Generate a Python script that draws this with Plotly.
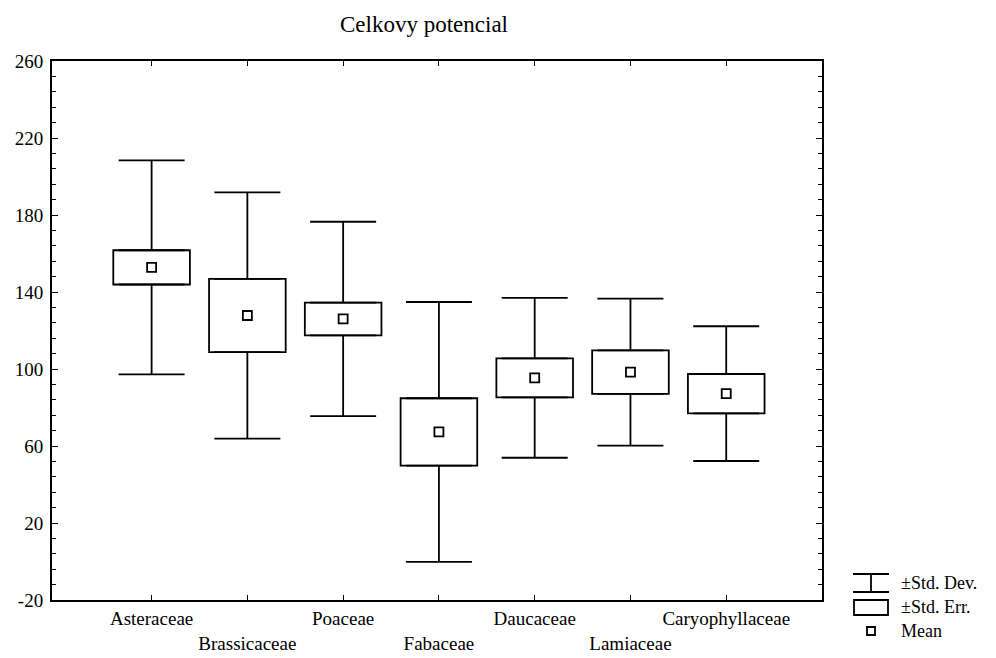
import plotly.graph_objects as go

categories = ["Asteraceae", "Brassicaceae", "Poaceae", "Fabaceae",
              "Daucaceae", "Lamiaceae", "Caryophyllaceae"]
means = [152.8, 127.8, 126.0, 67.3, 95.4, 98.4, 87.2]
std_err = [8.9, 19.0, 8.5, 17.5, 10.1, 11.3, 10.2]
std_dev = [55.6, 64.0, 50.5, 67.5, 41.5, 38.2, 35.0]
y_ticks = [-20, 20, 60, 100, 140, 180, 220, 260]
y_tick_labels = ["-20", "20", "60", "100", "140", "180", "220", "260"]
tick_labels = [c if i % 2 == 0 else "<br>" + c for i, c in enumerate(categories)]

FONT = "Liberation Serif"
x = list(range(len(categories)))

upper_start = [m + s for m, s in zip(means, std_err)]
lower_start = [m - s for m, s in zip(means, std_err)]
whisker_len = [d - s for d, s in zip(std_dev, std_err)]

LW = 1.8
fig = go.Figure()

# Std. Err. box
fig.add_trace(go.Bar(
    x=x, y=[2 * s for s in std_err], base=lower_start, width=0.8,
    marker=dict(color="white", line=dict(color="black", width=LW)),
    showlegend=False, hoverinfo="skip"))

# Std. Dev. whiskers (upper and lower parts)
fig.add_trace(go.Scatter(
    x=x, y=upper_start, mode="markers", marker=dict(size=0.1, color="black", opacity=0),
    error_y=dict(type="data", symmetric=False, array=whisker_len,
                 arrayminus=[0] * len(x), color="black", thickness=LW, width=33),
    showlegend=False, hoverinfo="skip"))
fig.add_trace(go.Scatter(
    x=x, y=lower_start, mode="markers", marker=dict(size=0.1, color="black", opacity=0),
    error_y=dict(type="data", symmetric=False, array=[0] * len(x),
                 arrayminus=whisker_len, color="black", thickness=LW, width=33),
    showlegend=False, hoverinfo="skip"))

# Means
fig.add_trace(go.Scatter(
    x=x, y=means, mode="markers",
    marker=dict(symbol="square-open", size=9, color="black", line=dict(width=1.8)),
    showlegend=False))

# Page has an 8px body margin: work in screen coordinates and convert.
OFF = 8
W, H = 988, 650
L, R, T, B = 44, 174, 53, 58
PW, PH = W - L - R, H - T - B
def px(xs): return (xs - OFF - L) / PW
def py(ys): return 1 - (ys - OFF - T) / PH

shapes = [
    dict(type="line", xref="paper", yref="paper", x0=px(853), x1=px(889), y0=py(574), y1=py(574), line=dict(color="black", width=LW)),
    dict(type="line", xref="paper", yref="paper", x0=px(853), x1=px(889), y0=py(592), y1=py(592), line=dict(color="black", width=LW)),
    dict(type="line", xref="paper", yref="paper", x0=px(871), x1=px(871), y0=py(574), y1=py(592), line=dict(color="black", width=LW)),
    dict(type="rect", xref="paper", yref="paper", x0=px(854), x1=px(888), y0=py(600), y1=py(615), line=dict(color="black", width=LW)),
    dict(type="rect", xref="paper", yref="paper", x0=px(867), x1=px(875), y0=py(627), y1=py(635), line=dict(color="black", width=LW)),
]
annotations = [
    dict(text="±Std. Dev.", x=px(899), y=py(583), xref="paper", yref="paper", xanchor="left", yanchor="middle", showarrow=False, font=dict(family=FONT, size=18, color="black")),
    dict(text="±Std. Err.", x=px(899), y=py(607), xref="paper", yref="paper", xanchor="left", yanchor="middle", showarrow=False, font=dict(family=FONT, size=18, color="black")),
    dict(text="Mean", x=px(899), y=py(631), xref="paper", yref="paper", xanchor="left", yanchor="middle", showarrow=False, font=dict(family=FONT, size=18, color="black")),
]

fig.update_layout(
    width=W, height=H,
    margin=dict(l=L, r=R, t=T, b=B, autoexpand=False),
    paper_bgcolor="white", plot_bgcolor="white",
    font=dict(family=FONT, size=19, color="black"),
    title=dict(text="Celkovy potencial", x=(424 - OFF) / W, xanchor="center", xref="container",
               y=1 - (24 - OFF) / H, yanchor="middle", yref="container",
               font=dict(family=FONT, size=23, color="black")),
    shapes=shapes, annotations=annotations,
    showlegend=False, bargap=0.2,
)
fig.update_xaxes(
    range=[-1.04, 7.0], tickmode="array", tickvals=x, ticktext=tick_labels,
    tickangle=0, automargin=False,
    showline=True, linecolor="black", linewidth=2, mirror="ticks",
    ticks="inside", ticklen=5, tickcolor="black", showgrid=False, zeroline=False,
    tickfont=dict(family=FONT, size=19, color="black"),
)
fig.update_yaxes(
    range=[-20, 260], tickmode="array", tickvals=y_ticks, ticktext=y_tick_labels,
    automargin=False, ticklabelstandoff=3,
    showline=True, linecolor="black", linewidth=2, mirror="ticks",
    ticks="inside", ticklen=6, tickcolor="black", showgrid=False, zeroline=False,
    minor=dict(dtick=8, tick0=-20, ticks="inside", ticklen=4, tickcolor="black", showgrid=False),
    tickfont=dict(family=FONT, size=19, color="black"),
)

fig.write_html("out.html")
